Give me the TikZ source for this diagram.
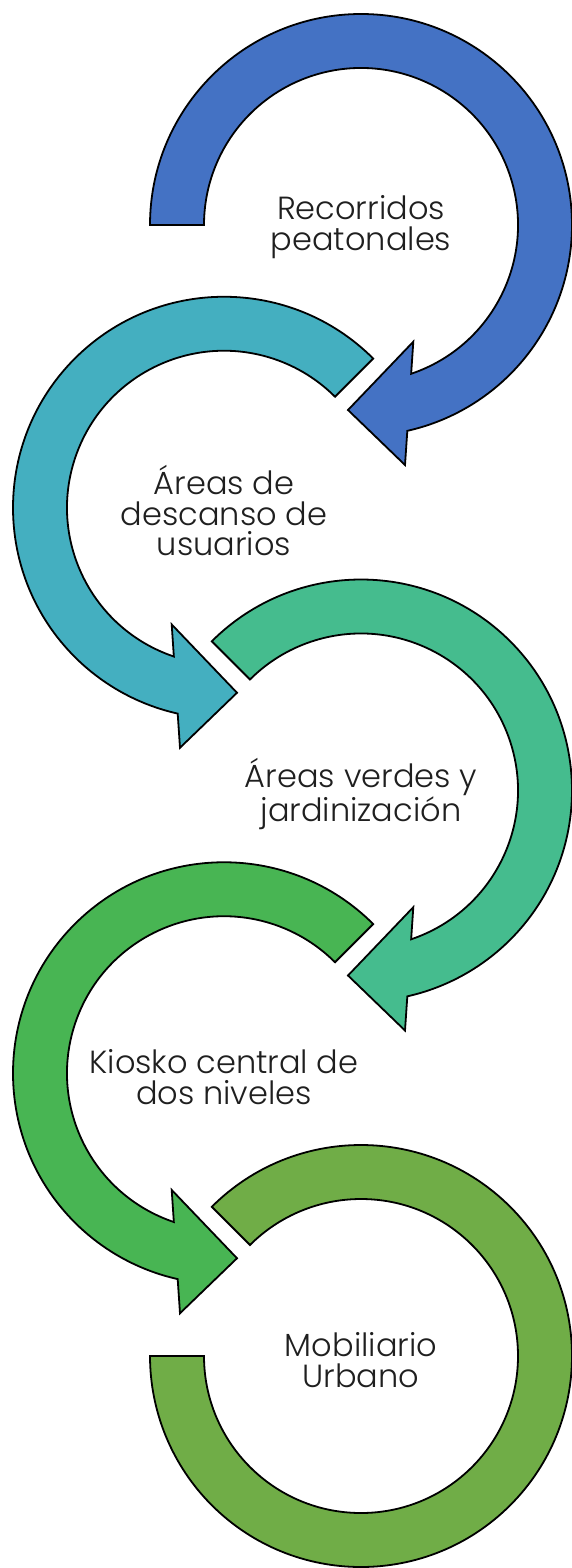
\documentclass[tikz,border=0pt]{standalone}
\usepackage{fontspec}
\setmainfont{Poppins}[UprightFont={* Light}]
\definecolor{cA}{HTML}{4472C4}
\definecolor{cB}{HTML}{44AFC0}
\definecolor{cC}{HTML}{45BC8E}
\definecolor{cD}{HTML}{48B553}
\definecolor{cE}{HTML}{70AD47}
\newcommand\myCircArrow[5]{%
  \begin{scope}[shift={(#1,#2)},xscale=#3]
    \filldraw[arr,fill=#5] (#4:211) arc[start angle=#4,end angle=-77.32,radius=211]
      -- (44,-240) -- (-13,-185) -- (52.3,-116.7) -- (-71.37:157)
      arc[start angle=-71.37,end angle=#4,radius=157] -- cycle;
  \end{scope}}
\begin{document}
\begin{tikzpicture}[x=1pt,y=1pt,
  arr/.style={draw=black,line width=1.8pt,line join=miter},
  lbl/.style={font=\fontsize{32}{30.5}\selectfont,align=center,text=black!88,inner sep=0pt}]
\useasboundingbox (0,0) rectangle (571,-1568);
\myCircArrow{361}{-225}{1}{180}{cA}
\myCircArrow{224}{-507.75}{-1}{135}{cB}
\myCircArrow{361}{-790.5}{1}{135}{cC}
\myCircArrow{224}{-1073.25}{-1}{135}{cD}
\begin{scope}[shift={(361,-1356)}]
  \filldraw[arr,fill=cE] (135:211) arc[start angle=135,end angle=-180,radius=211]
    -- (-180:157) arc[start angle=-180,end angle=135,radius=157] -- cycle;
\end{scope}
\node[lbl] (t1) at (361,-227) {Recorridos\\peatonales};
\node[lbl] (t2) at (224,-511) {Áreas de\\descanso de\\usuarios};
\node[lbl] (t3) at (361,-794) {Áreas verdes y\\jardinización};
\node[lbl] (t4) at (224,-1077) {Kiosko central de\\dos niveles};
\node[lbl] (t5) at (361,-1360) {Mobiliario\\Urbano};
\end{tikzpicture}
\end{document}
